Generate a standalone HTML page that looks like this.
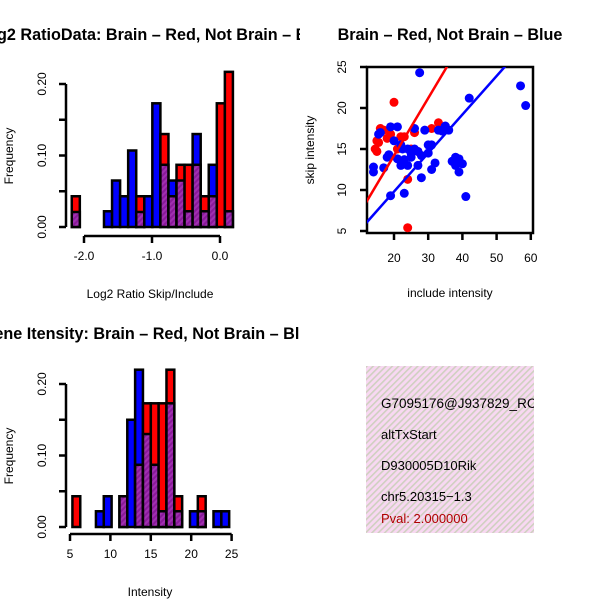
<!DOCTYPE html>
<html><head><meta charset="utf-8"><style>
body{margin:0;background:#fff}
svg{display:block;font-family:"Liberation Sans",Arial,sans-serif}
</style></head><body>
<svg id="c" width="600" height="600" xmlns="http://www.w3.org/2000/svg">
<defs>
<pattern id="pur" width="4" height="4" patternUnits="userSpaceOnUse" patternTransform="rotate(45)"><rect width="4" height="4" fill="#8a1a9a"/><rect width="2" height="4" fill="#a030b0"/></pattern>
<pattern id="pink" width="4.5" height="4.5" patternUnits="userSpaceOnUse" patternTransform="rotate(45)"><rect width="4.5" height="4.5" fill="#f8d8f2"/><rect width="1.6" height="4.5" fill="#cfd0c0"/></pattern>
<clipPath id="cl1"><rect x="0" y="0" width="300" height="300"/></clipPath>
<clipPath id="cl3"><rect x="0" y="300" width="300" height="300"/></clipPath>
<clipPath id="cl2"><rect x="367" y="67" width="166" height="166"/></clipPath>
<clipPath id="cl4"><rect x="366" y="366" width="168" height="168"/></clipPath>
</defs>
<g id="p1"></g>
<g id="p2"></g>
<g id="p3"></g>
<g clip-path="url(#cl4)">
<rect x="366" y="366" width="168" height="167" fill="url(#pink)"/>
<text x="381" y="408" font-size="13.5">G7095176@J937829_RC</text>
<text x="381" y="439" font-size="13">altTxStart</text>
<text x="381" y="470" font-size="13">D930005D10Rik</text>
<text x="381" y="501" font-size="13">chr5.20315−1.3</text>
<text x="381" y="523" font-size="13" fill="#b00000">Pval: 2.000000</text>
</g>
</svg>
<script>
// ---- Histogram 1: log2 ratio ----
const h1Start = -2.18, h1Width = 0.1185;
const h1Red  = [0.043,0,0,0,0,0,0,0,0.043,0,0,0.13,0.043,0.087,0.087,0.087,0.043,0.043,0.173,0.217];
const h1Blue = [0.021,0,0,0,0.022,0.065,0.043,0.107,0.021,0.043,0.173,0.087,0.065,0.065,0.022,0.13,0.022,0.087,0,0.022];
const h1XTicks = [-2.0,-1.0,0.0];
const h1XLabels = ["-2.0","-1.0","0.0"];
const h1YTicks = [0,0.05,0.10,0.15,0.20];
const h1YLabels = ["0.00","","0.10","","0.20"];
// ---- Histogram 2: intensity ----
const h2Start = 5.3, h2Width = 0.97;
const h2Red  = [0.043,0,0,0,0,0,0.043,0,0.087,0.173,0.173,0.173,0.22,0.043,0,0,0.043,0,0,0];
const h2Blue = [0,0,0,0.022,0.043,0,0.043,0.15,0.22,0.13,0.087,0.022,0.173,0.022,0,0.022,0.022,0,0.022,0.022];
const h2XTicks = [5,10,15,20,25];
const h2XLabels = ["5","10","15","20","25"];
const h2YTicks = [0,0.05,0.10,0.15,0.20];
const h2YLabels = ["0.00","","0.10","","0.20"];
// ---- Scatter ----
const blueX = [27.5,57,58.5,42,41,14,14,17,15.5,19,21,20,18.5,18,19,23,22.5,22,25,27,28,29,30,31,32,31,33,34,35,34,37,38,39,39,40,24,25,26,21,23,28,30,26,16,22,24,36,38,27];
const blueY = [24.3,22.7,20.3,21.2,9.2,12.8,12.2,12.7,16.8,17.7,17.7,16,14.3,14,9.3,9.6,15,13,14,13,11.5,17.3,15.5,15.5,13.3,12.5,17.3,17.3,17.8,17.2,13.5,13,12.2,13.8,13.2,15,14.5,15,13.8,13.7,14.2,14.5,17.5,17,15.5,13,17.3,14,14.7];
const redX = [15,15.5,15,16,17,18,20,22,19,24,24,21,25,26,27,31,33,23,14.5];
const redY = [14.7,15.8,16,17.5,17.3,16.3,20.7,16.5,16.8,11.3,5.4,15,15,17,14.7,17.5,18.2,16.5,15];
const redFit = [0.2,0.7];   // intercept, slope
const blueFit = [0.4,0.47];
const scXTicks = [20,30,40,50,60];
const scYTicks = [5,10,15,20,25];

const NS="http://www.w3.org/2000/svg";
function mk(parent,tag,attrs){const e=document.createElementNS(NS,tag);for(const k in attrs)e.setAttribute(k,attrs[k]);parent.appendChild(e);return e;}

function hist(g,o){
  const sx=v=>o.x0+(v-o.xa)*o.kx, sy=v=>o.y0-v*o.ky;
  const n=o.red.length;
  for(let i=0;i<n;i++){
    const a=o.start+i*o.w, b=a+o.w, r=o.red[i], bl=o.blue[i];
    const lo=Math.min(r,bl), hi=Math.max(r,bl);
    if(hi<=0)continue;
    const col=r>bl?"#ff0000":"#0000ff";
    const x1=sx(a),x2=sx(b);
    const t=mk(g,"rect",{x:x1,y:sy(hi),width:x2-x1,height:sy(0)-sy(hi),fill:col,stroke:"#000","stroke-width":2.5});
    
    
    if(lo>0){
      const p=mk(g,"rect",{x:x1,y:sy(lo),width:x2-x1,height:sy(0)-sy(lo),fill:"url(#pur)",stroke:"#000","stroke-width":2.5});
      
      
    }
  }
  const ya=mk(g,"line",{x1:o.ax,x2:o.ax,y1:sy(o.yt[0]),y2:sy(o.yt[o.yt.length-1]),stroke:"#000","stroke-width":2.5});
  
  
  o.yt.forEach((v,i)=>{
    mk(g,"line",{x1:o.ax-7,x2:o.ax,y1:sy(v),y2:sy(v),stroke:"#000","stroke-width":2.5});
    if(o.yl[i]){const t=mk(g,"text",{x:0,y:0,transform:`translate(${o.ax-20},${sy(v)}) rotate(-90)`,"text-anchor":"middle","font-size":12});t.textContent=o.yl[i];
      
      }
  });
  const xa=mk(g,"line",{x1:sx(o.xt[0]),x2:sx(o.xt[o.xt.length-1]),y1:o.ay,y2:o.ay,stroke:"#000","stroke-width":2.5});
  
  
  o.xt.forEach((v,i)=>{
    mk(g,"line",{x1:sx(v),x2:sx(v),y1:o.ay,y2:o.ay+7,stroke:"#000","stroke-width":2.5});
    const t=mk(g,"text",{x:sx(v),y:o.ay+24,"text-anchor":"middle","font-size":12});t.textContent=o.xl[i];
    
    
  });
  const yt=mk(g,"text",{transform:`translate(13,${o.y0-71})rotate(-90)`,"text-anchor":"middle","font-size":12});yt.textContent="Frequency";
  
  
  const xt=mk(g,"text",{x:o.xtx,y:o.ay+62,"text-anchor":"middle","font-size":12});xt.textContent=o.xtitle;
  
  
  const tt=mk(g,"text",{x:o.tx,y:o.ty,"text-anchor":"middle","font-size":16.2,"font-weight":"bold","clip-path":o.clip});tt.textContent=o.title;
  
  
}
hist(document.getElementById("p1"),{red:h1Red,blue:h1Blue,start:h1Start,w:h1Width,xa:0,x0:220,kx:68,y0:227,ky:715,ax:66,ay:236,
  xt:h1XTicks,xl:h1XLabels,yt:h1YTicks,yl:h1YLabels,xtx:150,xtitle:"Log2 Ratio Skip/Include",title:"Log2 RatioData: Brain – Red, Not Brain – Blue",tx:154,ty:40,clip:"url(#cl1)"});
hist(document.getElementById("p3"),{red:h2Red,blue:h2Blue,start:h2Start,w:h2Width,xa:5,x0:70,kx:8.08,y0:527,ky:715,ax:66,ay:534,
  xt:h2XTicks,xl:h2XLabels,yt:h2YTicks,yl:h2YLabels,xtx:150,xtitle:"Intensity",title:"Gene Itensity: Brain – Red, Not Brain – Blue",tx:150,ty:339,clip:"url(#cl3)"});

// scatter
(function(){
  const g=document.getElementById("p2");
  const sx=v=>394+(v-20)*3.42, sy=v=>231-(v-5)*8.2;
  const box=mk(g,"rect",{x:367,y:67,width:166,height:166,fill:"none",stroke:"#000","stroke-width":2.5});
  
  
  const pts=mk(g,"g",{"clip-path":"url(#cl2)"});
  redX.forEach((x,i)=>{const c=mk(pts,"circle",{cx:sx(x),cy:sy(redY[i]),r:4.5,fill:"#ff0000"});
    
    });
  blueX.forEach((x,i)=>{const c=mk(pts,"circle",{cx:sx(x),cy:sy(blueY[i]),r:4.5,fill:"#0000ff"});
    
    });
  [[redFit,"#ff0000","fit-line-brain"],[blueFit,"#0000ff","fit-line-not-brain"]].forEach(([f,c,n])=>{
    const l=mk(pts,"line",{x1:sx(10),y1:sy(f[0]+f[1]*10),x2:sx(65),y2:sy(f[0]+f[1]*65),stroke:c,"stroke-width":2.5});
    
    
  });
  scXTicks.forEach(v=>{mk(g,"line",{x1:sx(v),x2:sx(v),y1:233,y2:240,stroke:"#000","stroke-width":2.5});
    const t=mk(g,"text",{x:sx(v),y:262,"text-anchor":"middle","font-size":12});t.textContent=v;
    
    });
  scYTicks.forEach(v=>{mk(g,"line",{x1:360,x2:367,y1:sy(v),y2:sy(v),stroke:"#000","stroke-width":2.5});
    const t=mk(g,"text",{transform:`translate(346,${sy(v)})rotate(-90)`,"text-anchor":"middle","font-size":12});t.textContent=v;
    
    });
  const xt=mk(g,"text",{x:450,y:297,"text-anchor":"middle","font-size":12});xt.textContent="include intensity";
  
  
  const yt=mk(g,"text",{transform:"translate(314,150)rotate(-90)","text-anchor":"middle","font-size":12});yt.textContent="skip intensity";
  
  
  const tt=mk(g,"text",{x:450,y:40,"text-anchor":"middle","font-size":16.2,"font-weight":"bold"});tt.textContent="Brain – Red, Not Brain – Blue";
  
  
})();
</script>
</body></html>
